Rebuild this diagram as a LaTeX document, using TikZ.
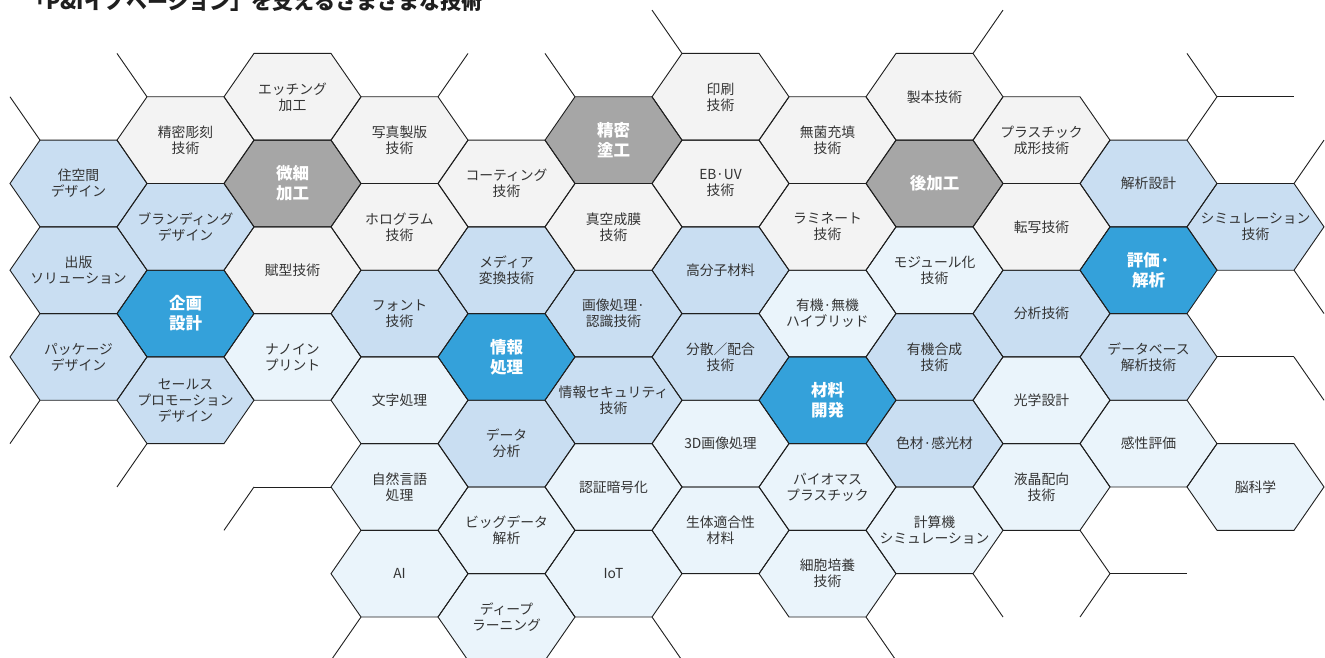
\documentclass[tikz,border=0pt]{standalone}
\usepackage{fontspec}
\newfontfamily\cjk{Noto Sans CJK JP}
\pgfdeclarelayer{bg}
\pgfsetlayers{bg,main}
\definecolor{hdark}{HTML}{A6A6A6}
\definecolor{hgray}{HTML}{F3F3F3}
\definecolor{hblue}{HTML}{34A1DA}
\definecolor{hmed}{HTML}{C9DEF2}
\definecolor{hpale}{HTML}{EAF4FB}
\definecolor{txt}{HTML}{333333}
\tikzset{
  cell/.style={draw=black!88, line width=0.9pt, line join=miter},
  gridline/.style={draw=black!88, line width=0.9pt},
  lbl/.style={font=\cjk\fontsize{13.8}{16}\selectfont, text=txt, align=center, inner sep=0pt},
  keylbl/.style={font=\cjk\bfseries\fontsize{16.5}{20}\selectfont, text=white, align=center, inner sep=0pt},
  titlelbl/.style={font=\cjk\bfseries\fontsize{21}{24}\selectfont, text=black!88, inner sep=0pt},
}
\newcommand{\hexcell}[5]{%
  \pgfmathsetmacro\hx{78.5+107*#1}%
  \pgfmathsetmacro\hy{10.1+43.35*#2}%
  \begin{pgfonlayer}{bg}
  \fill[#3] ({\hx-68.5},\hy) -- ({\hx-38.5},{\hy-43.35}) -- ({\hx+38.5},{\hy-43.35}) -- ({\hx+68.5},\hy) -- ({\hx+38.5},{\hy+43.35}) -- ({\hx-38.5},{\hy+43.35}) -- cycle;
  \end{pgfonlayer}
  \draw[cell] ({\hx-68.5},\hy) -- ({\hx-38.5},{\hy-43.35}) -- ({\hx+38.5},{\hy-43.35}) -- ({\hx+68.5},\hy) -- ({\hx+38.5},{\hy+43.35}) -- ({\hx-38.5},{\hy+43.35}) -- cycle;
  \node[#4] (n#1-#2) at (\hx,\hy) {#5};
}
\newcommand{\gl}[6]{%
  \pgfmathsetmacro\hx{78.5+107*#1}%
  \pgfmathsetmacro\hy{10.1+43.35*#2}%
  \draw[gridline] ({\hx+(#3)},{\hy+(#4)}) -- ({\hx+(#5)},{\hy+(#6)});
}
\begin{document}
\begin{tikzpicture}[x=1pt,y=-1pt]
\useasboundingbox (0,0) rectangle (1325,658);
\clip (0,0) rectangle (1325,658);
\begin{pgfonlayer}{bg}
\fill[white] (0,0) rectangle (1325,658);
\end{pgfonlayer}
\node[titlelbl, anchor=base west] (title) at (25,9.5) {「P\&Iイノベーション」を支えるさまざまな技術};
% column 0
\hexcell{0}{4}{hmed}{lbl}{住空間\\デザイン}
\hexcell{0}{6}{hmed}{lbl}{出版\\ソリューション}
\hexcell{0}{8}{hmed}{lbl}{パッケージ\\デザイン}
% column 1
\hexcell{1}{3}{hgray}{lbl}{精密彫刻\\技術}
\hexcell{1}{5}{hmed}{lbl}{ブランディング\\デザイン}
\hexcell{1}{7}{hblue}{keylbl}{企画\\設計}
\hexcell{1}{9}{hmed}{lbl}{セールス\\プロモーション\\デザイン}
% column 2
\hexcell{2}{2}{hgray}{lbl}{エッチング\\加工}
\hexcell{2}{4}{hdark}{keylbl}{微細\\加工}
\hexcell{2}{6}{hgray}{lbl}{賦型技術}
\hexcell{2}{8}{hpale}{lbl}{ナノイン\\プリント}
% column 3
\hexcell{3}{3}{hgray}{lbl}{写真製版\\技術}
\hexcell{3}{5}{hgray}{lbl}{ホログラム\\技術}
\hexcell{3}{7}{hmed}{lbl}{フォント\\技術}
\hexcell{3}{9}{hpale}{lbl}{文字処理}
\hexcell{3}{11}{hpale}{lbl}{自然言語\\処理}
\hexcell{3}{13}{hpale}{lbl}{AI}
% column 4
\hexcell{4}{4}{hgray}{lbl}{コーティング\\技術}
\hexcell{4}{6}{hmed}{lbl}{メディア\\変換技術}
\hexcell{4}{8}{hblue}{keylbl}{情報\\処理}
\hexcell{4}{10}{hmed}{lbl}{データ\\分析}
\hexcell{4}{12}{hpale}{lbl}{ビッグデータ\\解析}
\hexcell{4}{14}{hpale}{lbl}{ディープ\\ラーニング}
% column 5
\hexcell{5}{3}{hdark}{keylbl}{精密\\塗工}
\hexcell{5}{5}{hgray}{lbl}{真空成膜\\技術}
\hexcell{5}{7}{hmed}{lbl}{画像処理·\\認識技術}
\hexcell{5}{9}{hmed}{lbl}{情報セキュリティ\\技術}
\hexcell{5}{11}{hpale}{lbl}{認証暗号化}
\hexcell{5}{13}{hpale}{lbl}{IoT}
% column 6
\hexcell{6}{2}{hgray}{lbl}{印刷\\技術}
\hexcell{6}{4}{hgray}{lbl}{EB·UV\\技術}
\hexcell{6}{6}{hmed}{lbl}{高分子材料}
\hexcell{6}{8}{hmed}{lbl}{分散／配合\\技術}
\hexcell{6}{10}{hpale}{lbl}{3D画像処理}
\hexcell{6}{12}{hpale}{lbl}{生体適合性\\材料}
% column 7
\hexcell{7}{3}{hgray}{lbl}{無菌充填\\技術}
\hexcell{7}{5}{hgray}{lbl}{ラミネート\\技術}
\hexcell{7}{7}{hpale}{lbl}{有機·無機\\ハイブリッド}
\hexcell{7}{9}{hblue}{keylbl}{材料\\開発}
\hexcell{7}{11}{hpale}{lbl}{バイオマス\\プラスチック}
\hexcell{7}{13}{hpale}{lbl}{細胞培養\\技術}
% column 8
\hexcell{8}{2}{hgray}{lbl}{製本技術}
\hexcell{8}{4}{hdark}{keylbl}{後加工}
\hexcell{8}{6}{hpale}{lbl}{モジュール化\\技術}
\hexcell{8}{8}{hmed}{lbl}{有機合成\\技術}
\hexcell{8}{10}{hmed}{lbl}{色材·感光材}
\hexcell{8}{12}{hpale}{lbl}{計算機\\シミュレーション}
% column 9
\hexcell{9}{3}{hgray}{lbl}{プラスチック\\成形技術}
\hexcell{9}{5}{hgray}{lbl}{転写技術}
\hexcell{9}{7}{hmed}{lbl}{分析技術}
\hexcell{9}{9}{hpale}{lbl}{光学設計}
\hexcell{9}{11}{hpale}{lbl}{液晶配向\\技術}
% column 10
\hexcell{10}{4}{hmed}{lbl}{解析設計}
\hexcell{10}{6}{hblue}{keylbl}{評価·\\解析}
\hexcell{10}{8}{hmed}{lbl}{データベース\\解析技術}
\hexcell{10}{10}{hpale}{lbl}{感性評価}
% column 11
\hexcell{11}{5}{hmed}{lbl}{シミュレーション\\技術}
\hexcell{11}{11}{hpale}{lbl}{脳科学}
% open grid lines
\gl{0}{2}{-68.5}{0}{-38.5}{43.35}
\gl{0}{2}{38.5}{-43.35}{68.5}{0}
\gl{4}{2}{-68.5}{0}{-38.5}{-43.35}
\gl{4}{2}{38.5}{-43.35}{68.5}{0}
\gl{6}{0}{-68.5}{0}{-38.5}{43.35}
\gl{9}{1}{-68.5}{0}{-38.5}{-43.35}
\gl{10}{2}{38.5}{-43.35}{68.5}{0}
\gl{11}{3}{-38.5}{-43.35}{38.5}{-43.35}
\gl{11}{3}{-38.5}{-43.35}{-68.5}{0}
\gl{11}{3}{38.5}{43.35}{68.5}{0}
\gl{11}{7}{38.5}{-43.35}{68.5}{0}
\gl{11}{7}{-38.5}{43.35}{38.5}{43.35}
\gl{11}{9}{38.5}{-43.35}{68.5}{0}
\gl{9}{13}{38.5}{-43.35}{68.5}{0}
\gl{9}{13}{68.5}{0}{38.5}{43.35}
\gl{9}{13}{-68.5}{0}{-38.5}{43.35}
\gl{10}{12}{-38.5}{43.35}{38.5}{43.35}
\gl{8}{14}{-68.5}{0}{-38.5}{43.35}
\gl{6}{14}{-68.5}{0}{-38.5}{43.35}
\gl{2}{14}{68.5}{0}{38.5}{43.35}
\gl{2}{12}{-38.5}{-43.35}{38.5}{-43.35}
\gl{2}{12}{-38.5}{-43.35}{-68.5}{0}
\gl{1}{11}{-38.5}{-43.35}{-68.5}{0}
\gl{0}{10}{-38.5}{-43.35}{-68.5}{0}
\end{tikzpicture}
\end{document}
